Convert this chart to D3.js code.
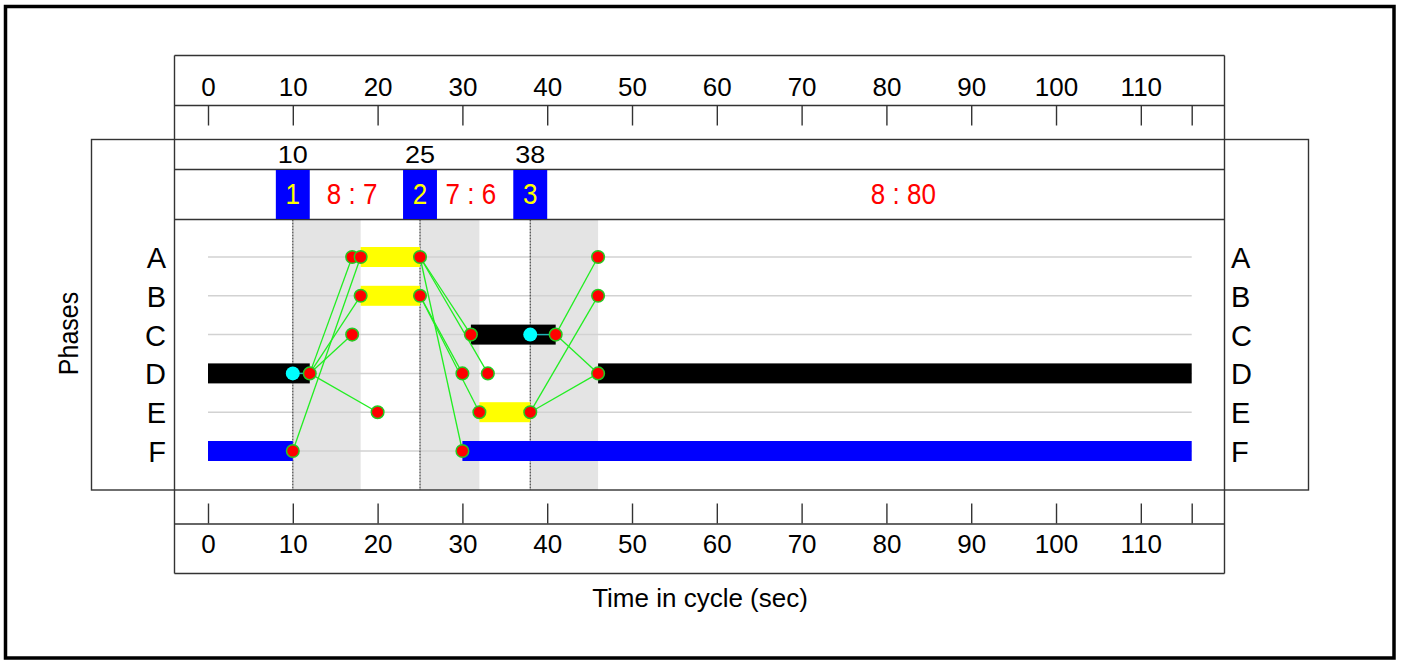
<!DOCTYPE html>
<html>
<head>
<meta charset="utf-8">
<script src="https://cdn.jsdelivr.net/npm/d3@7"></script>
<style>
  html, body { margin: 0; padding: 0; background: #fff; }
  svg { display: block; }
  text { font-family: "Liberation Sans", Arial, sans-serif; }
</style>
</head>
<body>
<svg id="chart" width="1401" height="660"></svg>
<script>
// ---------- DATA ----------
const phases = ["A", "B", "C", "D", "E", "F"];
const timeTicks = [0, 10, 20, 30, 40, 50, 60, 70, 80, 90, 100, 110];
const cycleTime = 116;

const stageTimes = [10, 25, 38];
const stageNumbers = ["1", "2", "3"];
const ratioTexts = ["8 : 7", "7 : 6", "8 : 80"];
const ratioTimes = [17, 31, 82];

const interstageStarts = [10, 25, 38];
const interstageEnds = [18, 32, 46];

// bars: phase, start, end, kind
const barPhase = ["A", "B", "C", "D", "D", "E", "F", "F"];
const barStart = [18, 18, 31, 0, 46, 32, 0, 30];
const barEnd   = [25, 25, 41, 12, 116, 38, 10, 116];
const barKind  = ["amber", "amber", "black", "black", "black", "amber", "blue", "blue"];

// markers
const redPhase = ["A","A","A","A","B","B","B","C","C","C","D","D","D","D","E","E","E","F","F"];
const redTime  = [17, 18, 25, 46, 18, 25, 46, 17, 31, 41, 12, 30, 33, 46, 20, 32, 38, 10, 30];
const cyanPhase = ["D", "C"];
const cyanTime  = [10, 38];

// intergreen links (from phase/time -> to phase/time)
const linkFromPhase = ["D","D","D","D","F","A","A","A","B","B","C","C","E","E"];
const linkFromTime  = [12, 12, 12, 12, 10, 25, 25, 25, 25, 25, 41, 41, 38, 38];
const linkToPhase   = ["A","B","C","E","A","C","D","F","D","E","A","D","B","D"];
const linkToTime    = [17, 18, 17, 20, 18, 31, 33, 30, 30, 32, 46, 46, 46, 46];

// cyan -> red connectors
const connFromPhase = ["D", "C"];
const connFromTime  = [10, 38];
const connToTime    = [12, 41];

// ---------- STYLE ----------
const kindColor = { amber: "#ffff00", black: "#000000", blue: "#0000ff" };
const lineCol = "#333333";

const svg = d3.select("#chart");
const x = d3.scaleLinear().domain([0, cycleTime]).range([208, 1191.7]);
const y = d3.scalePoint().domain(phases).range([257, 451]);

function txt(g, str, tx, ty, size, anchor, fill, sy, rot) {
  let tr = `translate(${tx},${ty})`;
  if (rot) tr += ` rotate(${rot})`;
  if (sy && sy !== 1) tr += ` scale(1,${sy})`;
  return g.append("text").attr("transform", tr)
    .attr("text-anchor", anchor).attr("font-size", size)
    .attr("fill", fill || "#000").text(str);
}

// outer frame
svg.append("rect").attr("x", 5.5).attr("y", 6.5).attr("width", 1388.5).attr("height", 651.5)
  .attr("fill", "none").attr("stroke", "#000").attr("stroke-width", 3.5);

// phase area background elements
const plot = svg.append("g");
// interstage gray
plot.selectAll("rect.ig").data(interstageStarts).enter().append("rect")
  .attr("x", (d) => x(d)).attr("y", 219.5)
  .attr("width", (d, i) => x(interstageEnds[i]) - x(d)).attr("height", 270.5)
  .attr("fill", "#e4e4e4");

// gridlines
plot.selectAll("line.grid").data(phases).enter().append("line")
  .attr("x1", x(0)).attr("x2", x(cycleTime))
  .attr("y1", (d) => y(d)).attr("y2", (d) => y(d))
  .attr("stroke", "#d2d2d2").attr("stroke-width", 1.5);

// dotted stage lines
plot.selectAll("line.stage").data(stageTimes).enter().append("line")
  .attr("x1", (d) => x(d)).attr("x2", (d) => x(d))
  .attr("y1", 219.5).attr("y2", 490)
  .attr("stroke", "#444").attr("stroke-width", 1.2).attr("stroke-dasharray", "2,1");

// bars
plot.selectAll("rect.bar").data(barPhase).enter().append("rect")
  .attr("x", (d, i) => x(barStart[i])).attr("y", (d) => y(d) - 10)
  .attr("width", (d, i) => x(barEnd[i]) - x(barStart[i])).attr("height", 20)
  .attr("fill", (d, i) => kindColor[barKind[i]]);

// green links
plot.selectAll("line.link").data(linkFromPhase).enter().append("line")
  .attr("x1", (d, i) => x(linkFromTime[i])).attr("y1", (d) => y(d))
  .attr("x2", (d, i) => x(linkToTime[i])).attr("y2", (d, i) => y(linkToPhase[i]))
  .attr("stroke", "#22ee22").attr("stroke-width", 1.3);

// teal connectors
plot.selectAll("line.conn").data(connFromPhase).enter().append("line")
  .attr("x1", (d, i) => x(connFromTime[i])).attr("y1", (d) => y(d))
  .attr("x2", (d, i) => x(connToTime[i])).attr("y2", (d) => y(d))
  .attr("stroke", "#1fb5b5").attr("stroke-width", 1.5);

// markers
plot.selectAll("circle.cyan").data(cyanPhase).enter().append("circle")
  .attr("cx", (d, i) => x(cyanTime[i])).attr("cy", (d) => y(d)).attr("r", 7)
  .attr("fill", "#00ffff");
plot.selectAll("circle.red").data(redPhase).enter().append("circle")
  .attr("cx", (d, i) => x(redTime[i])).attr("cy", (d) => y(d)).attr("r", 6.3)
  .attr("fill", "#ff0000").attr("stroke", "#22cc22").attr("stroke-width", 1.5);

// ---------- FRAME LINES ----------
const fr = svg.append("g").attr("stroke", lineCol).attr("stroke-width", 1.4).attr("fill", "none");
fr.append("rect").attr("x", 91.5).attr("y", 139.5).attr("width", 1217).attr("height", 350.5);
[55.5, 105.5, 169.5, 219.5, 524, 573.5].forEach((yy) => {
  fr.append("line").attr("x1", 174.5).attr("x2", 1224.5).attr("y1", yy).attr("y2", yy);
});
[174.5, 1224.5].forEach((xx) => {
  fr.append("line").attr("x1", xx).attr("x2", xx).attr("y1", 55.5).attr("y2", 573.5);
});

// ---------- AXES ----------
const allTicks = timeTicks.concat([cycleTime]);
const fmt = (d) => (timeTicks.indexOf(d) >= 0 ? String(d) : "");
const topAxis = d3.axisTop(x).tickValues(allTicks).tickFormat(fmt).tickSize(20).tickPadding(9.5);
const gTop = svg.append("g").attr("transform", "translate(0,125.5)").call(topAxis);
const botAxis = d3.axisBottom(x).tickValues(allTicks).tickFormat(fmt).tickSize(20).tickPadding(11.5);
const gBot = svg.append("g").attr("transform", "translate(0,503.5)").call(botAxis);
[gTop, gBot].forEach((g) => {
  g.select(".domain").remove();
  g.selectAll(".tick line").attr("stroke", lineCol).attr("stroke-width", 1.4);
  g.selectAll(".tick text").attr("font-size", 26).attr("fill", "#000")
    .attr("font-family", "'Liberation Sans', Arial, sans-serif");
});

// ---------- HEADER ROWS ----------
const hdr = svg.append("g");
stageTimes.forEach((t, i) => {
  txt(hdr, String(t), x(t), 162.5, 27, "middle", "#000", 0.88);
  hdr.append("rect").attr("x", x(t - 2)).attr("y", 170).attr("width", x(t + 2) - x(t - 2)).attr("height", 49)
    .attr("fill", "#0000ff");
  txt(hdr, stageNumbers[i], x(t), 204, 26, "middle", "#ffff00", 1.1);
});
ratioTexts.forEach((s, i) => {
  txt(hdr, s, x(ratioTimes[i]), 204, 26, "middle", "#ff0000", 1.1);
});

// ---------- PHASE LABELS ----------
const pl = svg.append("g");
phases.forEach((p) => {
  txt(pl, p, 166, y(p) + 11, 29, "end", "#000");
  txt(pl, p, 1231, y(p) + 11, 29, "start", "#000");
});

// ---------- AXIS TITLES ----------
txt(svg, "Time in cycle (sec)", 700, 607, 26, "middle", "#000");
txt(svg, "Phases", 77.5, 333.5, 25, "middle", "#000", 1.1, -90);
</script>
</body>
</html>
